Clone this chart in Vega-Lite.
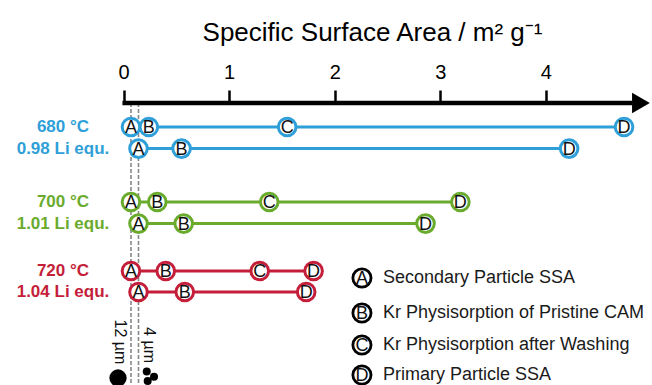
{
  "$schema": "https://vega.github.io/schema/vega-lite/v6.json",
  "autosize": "none",
  "width": 652,
  "height": 282,
  "padding": {"top": 103, "left": 0, "right": 0, "bottom": 0},
  "background": "white",
  "config": {"view": {"stroke": null}, "font": "Liberation Sans"},
  "datasets": {
    "pts": [
      {"s": "680", "row": "680a", "lane": 1.2, "k": "A", "v": 0.071},
      {"s": "680", "row": "680a", "lane": 1.2, "k": "B", "v": 0.24},
      {"s": "680", "row": "680a", "lane": 1.2, "k": "C", "v": 1.55},
      {"s": "680", "row": "680a", "lane": 1.2, "k": "D", "v": 4.74},
      {"s": "680", "row": "680b", "lane": 2.28, "k": "A", "v": 0.142},
      {"s": "680", "row": "680b", "lane": 2.28, "k": "B", "v": 0.55},
      {"s": "680", "row": "680b", "lane": 2.28, "k": "D", "v": 4.22},
      {"s": "700", "row": "700a", "lane": 4.95, "k": "A", "v": 0.071},
      {"s": "700", "row": "700a", "lane": 4.95, "k": "B", "v": 0.32},
      {"s": "700", "row": "700a", "lane": 4.95, "k": "C", "v": 1.38},
      {"s": "700", "row": "700a", "lane": 4.95, "k": "D", "v": 3.19},
      {"s": "700", "row": "700b", "lane": 6.03, "k": "A", "v": 0.142},
      {"s": "700", "row": "700b", "lane": 6.03, "k": "B", "v": 0.57},
      {"s": "700", "row": "700b", "lane": 6.03, "k": "D", "v": 2.86},
      {"s": "720", "row": "720a", "lane": 8.4, "k": "A", "v": 0.071},
      {"s": "720", "row": "720a", "lane": 8.4, "k": "B", "v": 0.4},
      {"s": "720", "row": "720a", "lane": 8.4, "k": "C", "v": 1.29},
      {"s": "720", "row": "720a", "lane": 8.4, "k": "D", "v": 1.8},
      {"s": "720", "row": "720b", "lane": 9.45, "k": "A", "v": 0.142},
      {"s": "720", "row": "720b", "lane": 9.45, "k": "B", "v": 0.58},
      {"s": "720", "row": "720b", "lane": 9.45, "k": "D", "v": 1.73}
    ],
    "groups": [
      {"s": "680", "t": "680 °C", "lane": 1.2},
      {"s": "680", "t": "0.98 Li equ.", "lane": 2.28},
      {"s": "700", "t": "700 °C", "lane": 4.95},
      {"s": "700", "t": "1.01 Li equ.", "lane": 6.03},
      {"s": "720", "t": "720 °C", "lane": 8.4},
      {"s": "720", "t": "1.04 Li equ.", "lane": 9.45}
    ],
    "legend": [
      {"k": "A", "d": "Secondary Particle SSA", "lane": 8.75},
      {"k": "B", "d": "Kr Physisorption of Pristine CAM", "lane": 10.5},
      {"k": "C", "d": "Kr Physisorption after Washing", "lane": 12.1},
      {"k": "D", "d": "Primary Particle SSA", "lane": 13.6}
    ],
    "dashes": [{"v": 0.071}, {"v": 0.142}],
    "one": [{"id": 1}],
    "sizes": [
      {"t": "12 µm", "v": -0.033, "lane": 11.95},
      {"t": "4 µm", "v": 0.241, "lane": 12.1}
    ],
    "dots": [
      {"v": -0.052, "lane": 13.75, "big": "big"},
      {"v": 0.22, "lane": 13.43, "big": "small"},
      {"v": 0.289, "lane": 13.69, "big": "small"},
      {"v": 0.229, "lane": 13.9, "big": "small"}
    ]
  },
  "layer": [
    {
      "data": {"name": "dashes"},
      "mark": {"type": "rule", "strokeDash": [4, 2], "color": "#888888", "strokeWidth": 1.6},
      "encoding": {
        "x": {
          "field": "v", "type": "quantitative",
          "scale": {"domain": [-1.1695, 5.0047], "nice": false, "zero": false},
          "axis": {
            "orient": "top", "values": [0, 1, 2, 3, 4], "format": "d", "domain": false, "grid": false,
            "tickSize": 13, "tickWidth": 2.5, "tickColor": "black",
            "labelFontSize": 20, "labelColor": "black", "labelPadding": 8, "labelFlush": false,
            "title": "Specific Surface Area / m² g⁻¹", "titleFontSize": 26, "titleFontWeight": "normal",
            "titleColor": "black", "titleX": 372, "titleY": -63, "titleAlign": "center", "titleBaseline": "alphabetic"
          }
        },
        "y": {"datum": 0, "type": "quantitative", "scale": {"domain": [0, 14.1], "reverse": true, "nice": false, "zero": false}, "axis": null},
        "y2": {"datum": 14.1}
      }
    },
    {
      "data": {"name": "one"},
      "mark": {"type": "rule", "color": "black", "strokeWidth": 4.5},
      "encoding": {
        "x": {"datum": -0.01, "type": "quantitative"},
        "x2": {"datum": 4.82},
        "y": {"datum": 0, "type": "quantitative", "axis": null}
      }
    },
    {
      "data": {"name": "one"},
      "mark": {"type": "point", "shape": "triangle-right", "filled": true, "color": "black", "size": 420, "opacity": 1},
      "encoding": {
        "x": {"datum": 4.9, "type": "quantitative"},
        "y": {"datum": 0, "type": "quantitative", "axis": null}
      }
    },
    {
      "data": {"name": "pts"},
      "mark": {"type": "line", "strokeWidth": 3},
      "encoding": {
        "x": {"field": "v", "type": "quantitative"},
        "y": {"field": "lane", "type": "quantitative", "axis": null},
        "detail": {"field": "row"},
        "order": {"field": "v"},
        "color": {"field": "s", "type": "nominal", "scale": {"domain": ["680", "700", "720"], "range": ["#2e9fd8", "#6aab2d", "#c41e3a"]}, "legend": null}
      }
    },
    {
      "data": {"name": "pts"},
      "mark": {"type": "point", "filled": false, "fill": "white", "fillOpacity": 1, "strokeWidth": 3, "size": 310, "opacity": 1},
      "encoding": {
        "x": {"field": "v", "type": "quantitative"},
        "y": {"field": "lane", "type": "quantitative", "axis": null},
        "color": {"field": "s", "type": "nominal", "legend": null}
      }
    },
    {
      "data": {"name": "pts"},
      "mark": {"type": "text", "fontSize": 18, "color": "#111", "align": "center", "baseline": "middle", "dy": 1},
      "encoding": {
        "x": {"field": "v", "type": "quantitative"},
        "y": {"field": "lane", "type": "quantitative", "axis": null},
        "text": {"field": "k"}
      }
    },
    {
      "data": {"name": "groups"},
      "mark": {"type": "text", "fontSize": 17, "fontWeight": "bold", "align": "center", "baseline": "middle"},
      "encoding": {
        "x": {"datum": -0.573, "type": "quantitative"},
        "y": {"field": "lane", "type": "quantitative", "axis": null},
        "text": {"field": "t"},
        "color": {"field": "s", "type": "nominal", "legend": null}
      }
    },
    {
      "data": {"name": "legend"},
      "mark": {"type": "point", "filled": false, "fill": "white", "fillOpacity": 1, "stroke": "black", "strokeWidth": 2.8, "size": 330, "opacity": 1},
      "encoding": {
        "x": {"datum": 2.258, "type": "quantitative"},
        "y": {"field": "lane", "type": "quantitative", "axis": null}
      }
    },
    {
      "data": {"name": "legend"},
      "mark": {"type": "text", "fontSize": 18, "color": "#111", "align": "center", "baseline": "middle", "dy": 1},
      "encoding": {
        "x": {"datum": 2.258, "type": "quantitative"},
        "y": {"field": "lane", "type": "quantitative", "axis": null},
        "text": {"field": "k"}
      }
    },
    {
      "data": {"name": "legend"},
      "mark": {"type": "text", "fontSize": 18, "color": "#1a1a1a", "align": "left", "baseline": "middle"},
      "encoding": {
        "x": {"datum": 2.457, "type": "quantitative"},
        "y": {"field": "lane", "type": "quantitative", "axis": null},
        "text": {"field": "d"}
      }
    },
    {
      "data": {"name": "sizes"},
      "mark": {"type": "text", "fontSize": 16, "color": "#111", "align": "center", "baseline": "middle", "angle": 90},
      "encoding": {
        "x": {"field": "v", "type": "quantitative"},
        "y": {"field": "lane", "type": "quantitative", "axis": null},
        "text": {"field": "t"}
      }
    },
    {
      "data": {"name": "dots"},
      "mark": {"type": "point", "filled": true, "color": "black", "opacity": 1},
      "encoding": {
        "x": {"field": "v", "type": "quantitative"},
        "y": {"field": "lane", "type": "quantitative", "axis": null},
        "size": {"field": "big", "type": "nominal", "scale": {"domain": ["big", "small"], "range": [300, 64]}, "legend": null}
      }
    }
  ]
}
